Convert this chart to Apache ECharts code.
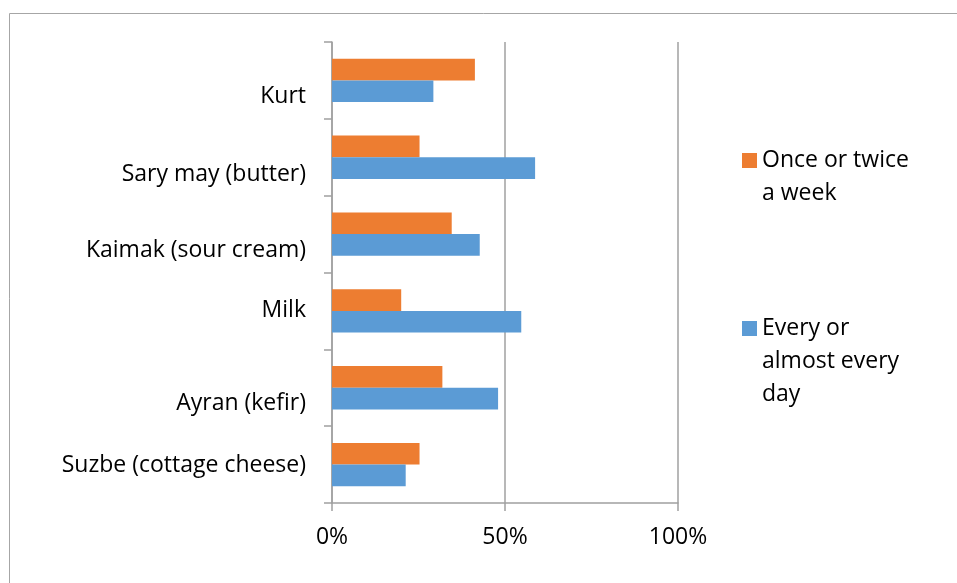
<!DOCTYPE html>
<html>
<head>
<meta charset="utf-8">
<script src="https://cdn.jsdelivr.net/npm/echarts@6/dist/echarts.min.js"></script>
<style>
  html, body { margin: 0; padding: 0; background: #fff; }
  #chart { width: 957px; height: 583px; }
</style>
</head>
<body>
<div id="chart"></div>
<script>
// Categories, top to bottom
var categories = ['Kurt', 'Sary may (butter)', 'Kaimak (sour cream)', 'Milk', 'Ayran (kefir)', 'Suzbe (cottage cheese)'];
// Series values (%)
var onceTwiceWeek = [41.3, 25.3, 34.6, 20.0, 31.9, 25.3];
var everyDay = [29.3, 58.7, 42.7, 54.7, 48.0, 21.3];
var seriesNames = ['Once or twice a week', 'Every or almost every day'];
// Tick labels
var xTicks = [0, 50, 100];

// Styling only: vertical nudge of category labels (px) to mimic original layout
var labelNudge = [16, 17, 16, 0, 16, 1];
var legendWrap = {
  'Once or twice a week': 'Once or twice\na week',
  'Every or almost every day': 'Every or\nalmost every\nday'
};

var FONT = 'Open Sans';
var FS = 23;
var chart = echarts.init(document.getElementById('chart'), null, { renderer: 'canvas' });

var labelRich = {};
labelNudge.forEach(function (off, i) {
  labelRich['n' + i] = {
    fontFamily: FONT, fontSize: FS, color: '#000',
    padding: [off * 2, 0, 0, 0]
  };
});

var LH = 33;
function legendFor(name, topPx) {
  var lines = legendWrap[name].split('\n').length;
  var pad = '';
  for (var k = 1; k < lines; k++) pad += '\n';
  return {
    data: [name],
    orient: 'vertical',
    left: 742,
    top: topPx - (lines * LH + (lines - 1) * LH) / 2 + 7.5,
    padding: 0,
    itemWidth: 15,
    itemHeight: 15,
    itemGap: 6,
    icon: 'rect',
    selectedMode: false,
    formatter: function (n) { return pad + legendWrap[n]; },
    textStyle: {
      fontFamily: FONT, fontSize: 23, color: '#000', lineHeight: LH
    }
  };
}

var option = {
  animation: false,
  backgroundColor: '#fff',
  textStyle: { fontFamily: FONT },
  graphic: [{
    type: 'rect', silent: true,
    shape: { x: 9.5, y: 13.5, width: 1200, height: 800 },
    style: { fill: 'none', stroke: '#a6a6a6', lineWidth: 1 }
  }],
  legend: [legendFor(seriesNames[0], 153), legendFor(seriesNames[1], 321)],
  grid: { left: 332, right: 279, top: 42, bottom: 80, containLabel: false },
  xAxis: {
    type: 'value', min: xTicks[0], max: xTicks[xTicks.length - 1], interval: xTicks[1] - xTicks[0],
    axisLine: { show: true, lineStyle: { color: '#a0a0a0', width: 1.5 } },
    axisTick: { show: true, length: 8, lineStyle: { color: '#a0a0a0', width: 1.5 } },
    splitLine: { show: true, lineStyle: { color: '#a0a0a0', width: 1.5 } },
    axisLabel: { formatter: '{value}%', fontFamily: FONT, fontSize: FS, color: '#000', margin: 23 }
  },
  yAxis: {
    type: 'category', inverse: true, data: categories,
    axisLine: { show: true, lineStyle: { color: '#a0a0a0', width: 1.5 } },
    axisTick: { show: true, length: 8, lineStyle: { color: '#a0a0a0', width: 1.5 } },
    splitLine: { show: false },
    axisLabel: {
      fontFamily: FONT, fontSize: FS, color: '#000', margin: 26,
      formatter: function (v, i) { return '{n' + i + '|' + v + '}'; },
      rich: labelRich
    }
  },
  series: [
    { name: seriesNames[0], type: 'bar', data: onceTwiceWeek, barWidth: 21.7, barGap: '0%',
      itemStyle: { color: '#ED7D31' } },
    { name: seriesNames[1], type: 'bar', data: everyDay, barWidth: 21.7, barGap: '0%',
      itemStyle: { color: '#5B9BD5' } }
  ]
};
chart.setOption(option);
</script>
</body>
</html>
